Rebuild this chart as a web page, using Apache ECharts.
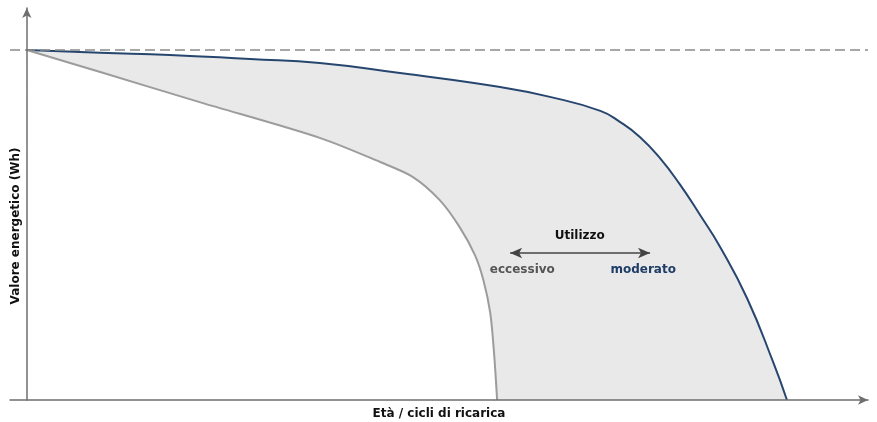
<!DOCTYPE html>
<html>
<head>
<meta charset="utf-8">
<script src="https://cdn.jsdelivr.net/npm/echarts@6/dist/echarts.min.js"></script>
<style>
  html, body { margin: 0; padding: 0; background: #fff; }
  #main { width: 877px; height: 422px; }
</style>
</head>
<body>
<div id="main"></div>
<script>
// curva "moderato" (blu)
var ageModerato = [0, 9.6, 18.7, 29.2, 38.3, 48.8, 61.9, 68.4, 75.0, 77.6, 80.2, 82.8, 85.4, 88.0, 90.7, 94.2, 97.6, 99.4];
var energyModerato = [100, 99.2, 98.6, 97.4, 96.3, 93.4, 89.4, 86.6, 82.6, 79.4, 75.1, 69.1, 61.6, 53.0, 43.6, 29.0, 10.8, 0];
// curva "eccessivo" (grigia)
var ageEccessivo = [0, 9.6, 22.6, 38.3, 46.2, 50.5, 54.0, 56.6, 58.6, 59.7, 60.6, 61.1, 61.5];
var energyEccessivo = [100, 93.7, 85.1, 74.9, 68, 63.7, 57.1, 49.4, 41.4, 34.3, 24.9, 13.4, 0];
var capacitaNominale = 100;

function zip(xs, ys) {
  return xs.map(function (x, i) { return [x, ys[i]]; });
}

var myChart = echarts.init(document.getElementById('main'));
var font = '"DejaVu Sans", Verdana, sans-serif';

var option = {
  animation: false,
  grid: { left: 10, right: 9, top: 8, bottom: 22, containLabel: false, outerBoundsMode: 'none' },
  xAxis: {
    type: 'value',
    min: -2.2,
    max: 110,
    name: 'Età / cicli di ricarica',
    nameLocation: 'middle',
    nameGap: 8,
    nameTextStyle: { fontFamily: font, fontWeight: 'bold', fontSize: 12, color: '#111', verticalAlign: 'top' },
    axisLine: { lineStyle: { color: '#6e6e6e', width: 1.5 }, symbol: ['none', 'arrow'], symbolSize: [7, 10] },
    axisTick: { show: false },
    axisLabel: { show: false },
    splitLine: { show: false },
    z: 10
  },
  yAxis: {
    type: 'value',
    min: 0,
    max: 112,
    name: 'Valore energetico (Wh)',
    nameLocation: 'middle',
    nameGap: -12,
    nameRotate: 90,
    nameTextStyle: { fontFamily: font, fontWeight: 'bold', fontSize: 12, color: '#111', padding: [0, 44, 0, 0] },
    axisLine: { onZero: true, lineStyle: { color: '#6e6e6e', width: 1.5 }, symbol: ['none', 'arrow'], symbolSize: [7, 10] },
    axisTick: { show: false },
    axisLabel: { show: false },
    splitLine: { show: false },
    z: 10
  },
  series: [
    {
      name: 'moderato',
      type: 'line',
      data: zip(ageModerato, energyModerato),
      smooth: 0.5,
      showSymbol: false,
      z: 2,
      lineStyle: { color: '#27466f', width: 2 },
      areaStyle: { color: '#e9e9e9', opacity: 1 },
      markLine: {
        silent: true,
        symbol: 'none',
        label: { show: false },
        lineStyle: { color: '#8a8a8a', width: 1.5, type: [10, 5] },
        data: [[{ coord: [-2.2, capacitaNominale] }, { coord: [110, capacitaNominale] }]]
      }
    },
    {
      name: 'eccessivo',
      type: 'line',
      data: zip(ageEccessivo, energyEccessivo),
      smooth: 0.3,
      showSymbol: false,
      z: 3,
      lineStyle: { color: '#9c9c9c', width: 2 },
      areaStyle: { color: '#ffffff', opacity: 1 },
      markLine: {
        silent: true,
        symbol: ['arrow', 'arrow'],
        symbolSize: [8, 12],
        label: { show: false },
        lineStyle: { color: '#444', width: 1.5, type: 'solid' },
        data: [[{ coord: [63.2, 42] }, { coord: [81.5, 42] }]]
      },
      markPoint: {
        silent: true,
        symbol: 'circle',
        symbolSize: 0,
        data: [
          { coord: [72.3, 46.9], label: { formatter: 'Utilizzo', color: '#111' } },
          { coord: [64.8, 37.1], label: { formatter: 'eccessivo', color: '#555' } },
          { coord: [80.6, 37.1], label: { formatter: 'moderato', color: '#1f3d66' } }
        ],
        label: { show: true, position: 'inside', fontFamily: font, fontWeight: 'bold', fontSize: 12 }
      }
    }
  ]
};

myChart.setOption(option);
</script>
</body>
</html>
